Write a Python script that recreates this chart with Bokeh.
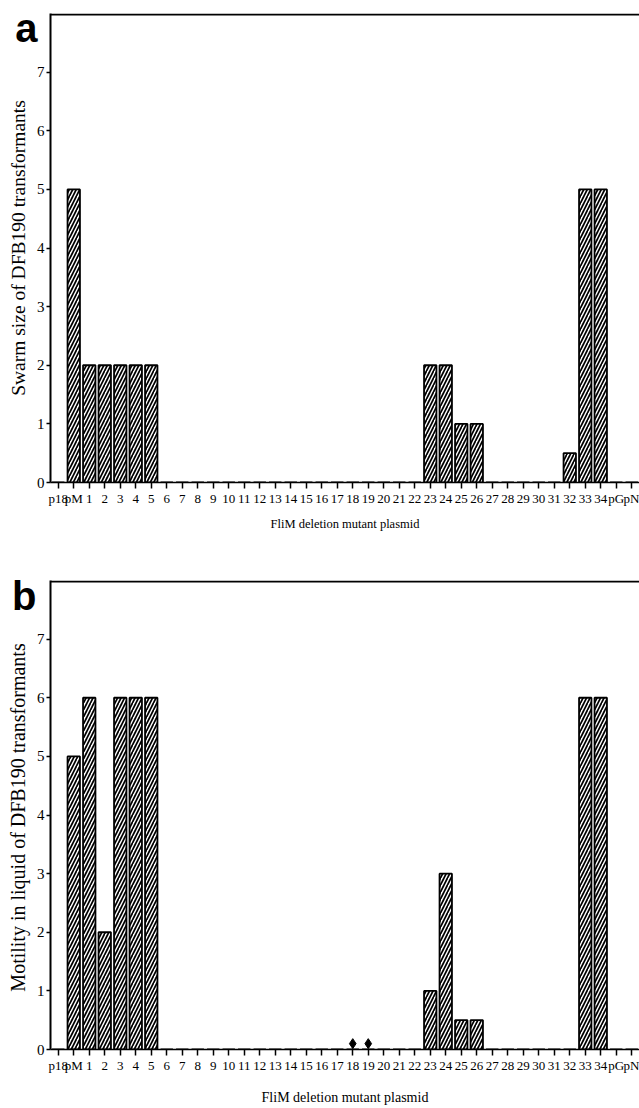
from bokeh.plotting import figure
from bokeh.models import Range1d, FixedTicker, ColumnDataSource, Span, LinearAxis
from bokeh.layouts import column
from bokeh.embed import file_html
from bokeh.resources import INLINE

categories = ["p18", "pM"] + [str(i) for i in range(1, 35)] + ["pG", "pN"]

swarm_values = [0, 5, 2, 2, 2, 2, 2,
                0, 0, 0, 0, 0, 0, 0, 0, 0, 0, 0, 0, 0, 0, 0, 0, 0,
                2, 2, 1, 1,
                0, 0, 0, 0, 0,
                0.5, 5, 5,
                0, 0]

motility_values = [0, 5, 6, 2, 6, 6, 6,
                   0, 0, 0, 0, 0, 0, 0, 0, 0, 0, 0, 0, 0, 0, 0, 0, 0,
                   1, 3, 0.5, 0.5,
                   0, 0, 0, 0, 0,
                   0, 6, 6,
                   0, 0]

marker_cats = ["18", "19"]
marker_vals = [0.1, 0.1]

y_ticks = [0, 1, 2, 3, 4, 5, 6, 7]
xlabel = "FliM deletion mutant plasmid"
SERIF = "Liberation Serif"

idx = list(range(len(categories)))
pos = {c: i for i, c in enumerate(categories)}


def make_panel(values, ylab, letter, letter_y, height, top_border, title_size, title_standoff, ysize,
               markers=None):
    n = len(categories)
    p = figure(x_range=Range1d(-0.5, n - 0.5),
               y_range=Range1d(0, 8), width=639, height=height,
               output_backend="svg", toolbar_location=None,
               min_border_left=50, min_border_right=0,
               min_border_top=top_border, min_border_bottom=height - top_border - 469)
    src = ColumnDataSource(dict(x=idx, top=values))
    p.vbar(x="x", top="top", width=0.8, source=src, fill_color="white",
           line_color="black", line_width=1.8, hatch_pattern="/",
           hatch_color="black", hatch_scale=7, hatch_weight=1.7)
    if markers is not None:
        p.scatter(x=[pos[c] for c in markers[0]], y=markers[1], marker="diamond", size=10,
                  fill_color="black", line_color="black")
    p.grid.visible = False
    p.outline_line_color = None
    p.background_fill_color = "white"
    p.border_fill_color = "white"
    p.add_layout(Span(location=7.985, dimension="width", line_color="black", line_width=2))

    # main y axis: rule, ticks, numbers
    p.yaxis.ticker = FixedTicker(ticks=y_ticks)
    p.yaxis.minor_tick_line_color = None
    p.yaxis.major_tick_out = 4
    p.yaxis.major_tick_in = 0
    p.yaxis.major_label_standoff = 2
    p.yaxis.axis_line_width = 2
    p.yaxis.major_tick_line_width = 1.5
    p.yaxis.major_label_text_font = SERIF
    p.yaxis.major_label_text_font_size = "15px"
    p.yaxis.major_label_text_color = "black"

    # axis carrying only the title text
    lab_ax = LinearAxis(ticker=FixedTicker(ticks=[]), axis_line_color=None,
                        major_tick_line_color=None, minor_tick_line_color=None,
                        axis_label=ylab, axis_label_text_font=SERIF,
                        axis_label_text_font_size=ysize, axis_label_text_font_style="normal",
                        axis_label_text_color="black", axis_label_standoff=5)
    p.add_layout(lab_ax, "left")

    # axis carrying the panel letter
    let_ax = LinearAxis(ticker=FixedTicker(ticks=[letter_y]), axis_line_color=None,
                        major_tick_line_color=None, minor_tick_line_color=None,
                        major_tick_out=0, major_tick_in=0,
                        major_label_overrides={letter_y: letter},
                        major_label_text_font="Liberation Sans",
                        major_label_text_font_style="bold",
                        major_label_text_font_size="40px",
                        major_label_text_color="black",
                        major_label_standoff=-33)
    p.add_layout(let_ax, "left")

    p.xaxis.ticker = FixedTicker(ticks=idx)
    p.xaxis.major_label_overrides = {i: c for i, c in enumerate(categories)}
    p.xaxis.minor_tick_line_color = None
    p.xaxis.major_tick_out = 6
    p.xaxis.major_tick_in = 0
    p.xaxis.major_tick_line_width = 1.5
    p.xaxis.axis_line_width = 1.5
    p.xaxis.major_label_standoff = 2
    p.xaxis.major_label_text_font = SERIF
    p.xaxis.major_label_text_font_size = "13px"
    p.xaxis.major_label_text_color = "black"
    p.xaxis.axis_label = xlabel
    p.xaxis.axis_label_text_font = SERIF
    p.xaxis.axis_label_text_font_size = title_size
    p.xaxis.axis_label_text_font_style = "normal"
    p.xaxis.axis_label_text_color = "black"
    p.xaxis.axis_label_standoff = title_standoff
    return p


pa = make_panel(swarm_values, "Swarm size of DFB190 transformants", "a", 7.75,
                556, 13, "12.5px", 8, "19.5px")
pb = make_panel(motility_values, "Motility in  liquid of DFB190 transformants", "b", 7.74,
                552, 24, "14px", 14, "20px",
                markers=(marker_cats, marker_vals))

layout = column(pa, pb)
open("out.html", "w").write(file_html(layout, INLINE))
